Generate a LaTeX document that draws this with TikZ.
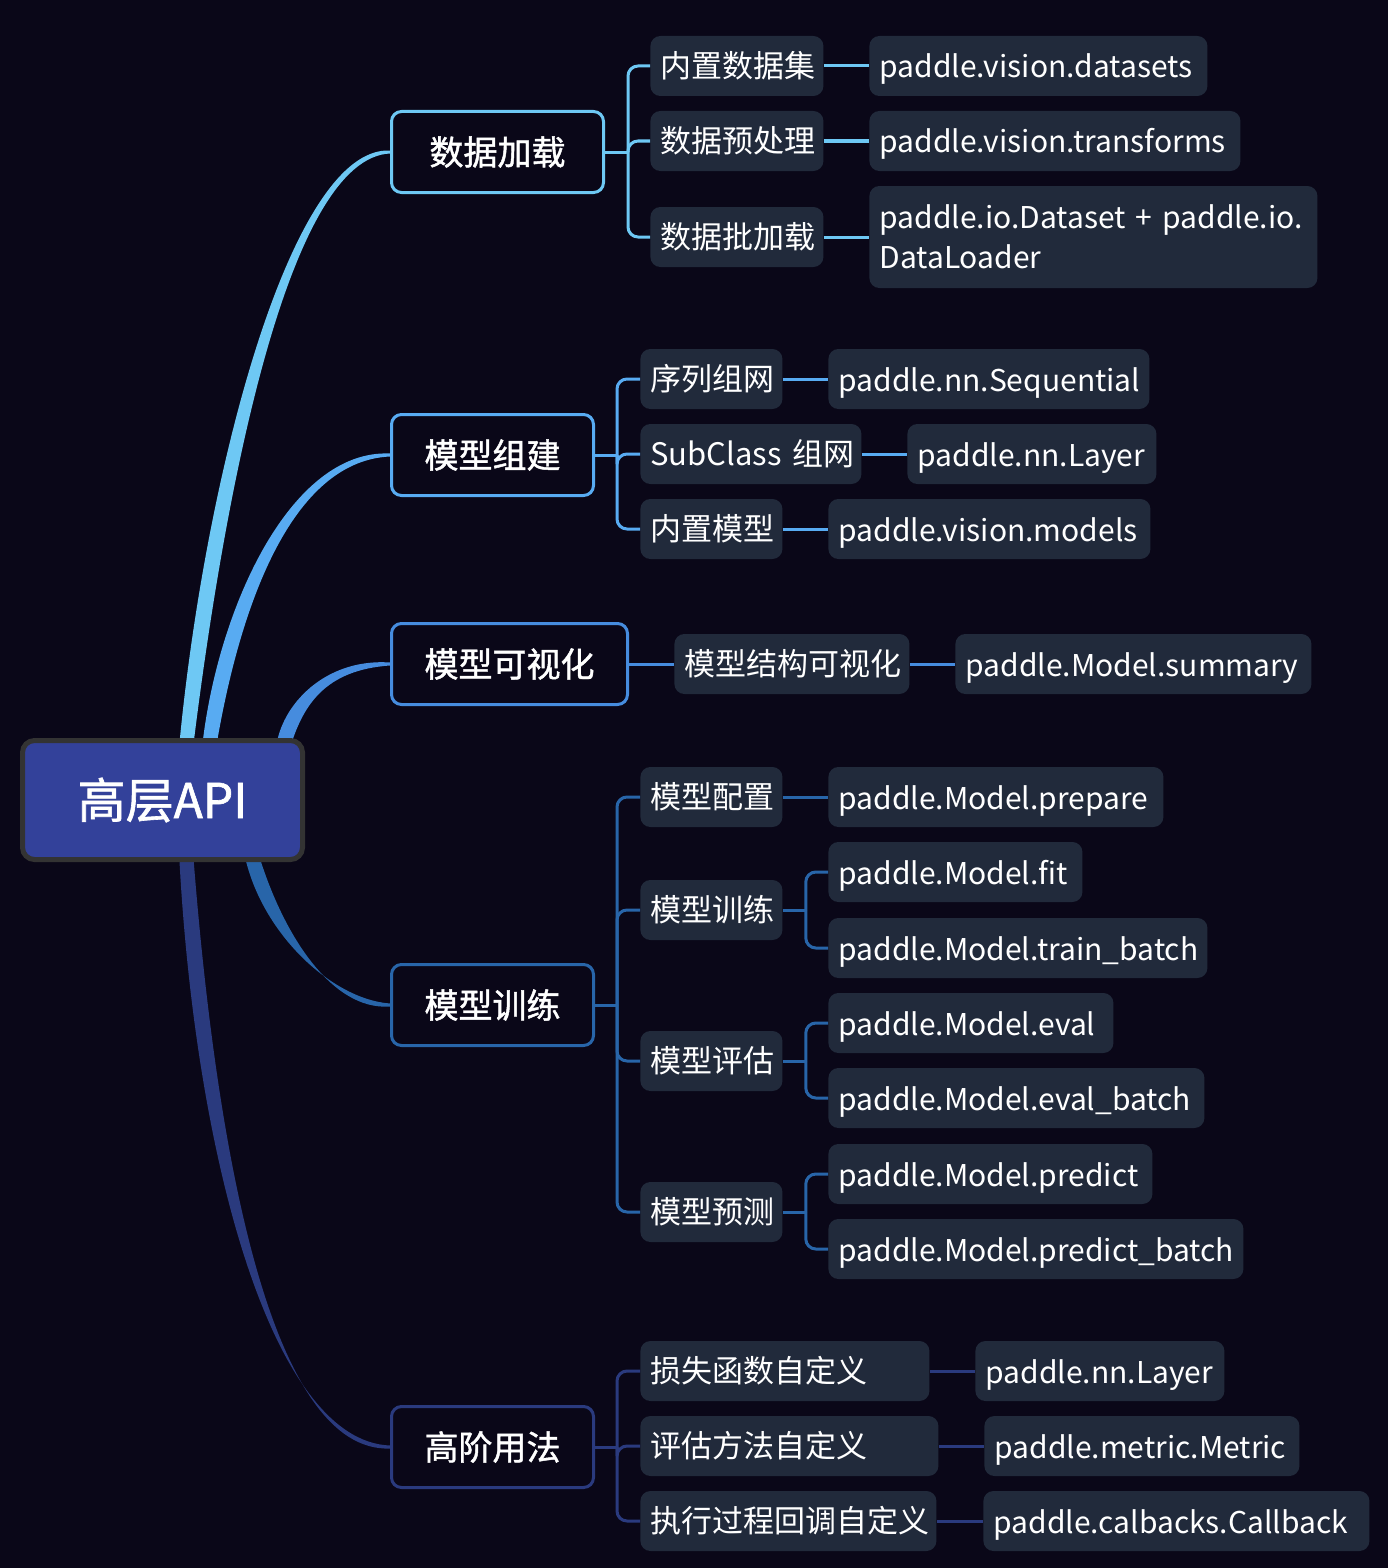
\documentclass[tikz,border=0pt]{standalone}
\usepackage{fontspec}
\setmainfont{Noto Sans CJK SC}
\newfontfamily\medfont{Noto Sans CJK SC}[FakeBold=1.3]
\usetikzlibrary{calc}
\hyphenpenalty=10000
\exhyphenpenalty=10000

\definecolor{bgdark}{HTML}{0A0718}
\definecolor{subfill}{HTML}{212A3B}
\definecolor{rootblue}{HTML}{33419A}
\definecolor{rootedge}{HTML}{333333}
\definecolor{cload}{HTML}{6EC8F4}
\definecolor{cbuild}{HTML}{58ABF2}
\definecolor{cvis}{HTML}{468CDE}
\definecolor{ctrain}{HTML}{2865A9}
\definecolor{cadv}{HTML}{2A3A7E}

\pgfdeclarelayer{back}
\pgfsetlayers{back,main}

% tapered stem from the root to a topic box
\newcommand{\stem}[5]{%
  \fill[#1] ($(#2)+(-7,0)$) .. controls ($(#3)+(-11,0)$) and ($(#4)+(0,-6)$) .. ($(#5.west)+(0,-1.5)$)
    -- ($(#5.west)+(0,1.5)$) .. controls ($(#4)+(0,6)$) and ($(#3)+(11,0)$) .. ($(#2)+(7,0)$) -- cycle;}

\tikzset{
  root/.style={fill=rootblue, draw=rootedge, line width=2.5pt, rounded corners=6pt,
    minimum width=140pt, minimum height=59.5pt, text=white, font=\medfont\fontsize{24}{28}\selectfont},
  topic/.style={draw=#1, line width=1.5pt, rounded corners=5pt, fill=bgdark, text=white,
    minimum height=40.5pt, font=\medfont\fontsize{17}{20}\selectfont},
  box/.style={fill=subfill, rounded corners=5pt, text=white, anchor=west, minimum height=30pt,
    inner xsep=5pt, align=left, text width=#1, font=\fontsize{15.5}{20}\selectfont},
  api/.style={box=#1, font=\fontsize{15}{20}\selectfont, text height=15pt, text depth=3pt},
  link/.style={draw=#1, line width=1.5pt},
  fork/.style={draw=#1, line width=1.5pt, rounded corners=5pt},
}

\begin{document}
\begin{tikzpicture}[x=0.5pt, y=-0.5pt]
  \useasboundingbox (0,0) rectangle (1388,1568);
  % Draw root
  \node[root] (core) at (162.5,800) {高层API};

  % Draw topics
  \node[topic=cload, minimum width=106pt] (load) at (497.5,152) {数据加载};
  \node[topic=cbuild, minimum width=101pt] (build) at (492.5,455) {模型组建};
  \node[topic=cvis, minimum width=118pt] (vis) at (509.5,664) {模型可视化};
  \node[topic=ctrain, minimum width=101pt] (train) at (492.5,1005) {模型训练};
  \node[topic=cadv, minimum width=101pt] (adv) at (492.5,1447) {高阶用法};

  % Data loading
  \node[box=76.5pt] (s11) at (650,66) {内置数据集};
  \node[box=76.5pt] (s12) at (650,141) {数据预处理};
  \node[box=76.5pt] (s13) at (650,237) {数据批加载};
  \node[api=159pt] (l11) at (869,66) {paddle.vision.datasets};
  \node[api=175.5pt] (l12) at (869,141) {paddle.vision.transforms};
  \node[box=214pt, font=\fontsize{15}{20}\selectfont, minimum height=51pt] (l13) at (869,237) {paddle.io.Dataset~+~paddle.io.\\DataLoader};
  \draw[link=cload] (load.east) -- ++(23,0);
  \foreach \s in {s11,s12,s13}
    \draw[fork=cload] (load.east) ++(23,0) |- (\s.west);
  \foreach \s/\l in {s11/l11,s12/l12,s13/l13}
    \draw[link=cload] (\s.east) -- (\l.west);

  % Model building
  \node[box=61pt] (s21) at (640,379) {序列组网};
  \node[box=100.5pt] (s22) at (640,454) {SubClass~组网};
  \node[box=61pt] (s23) at (640,529) {内置模型};
  \node[api=150.5pt] (l21) at (828,379) {paddle.nn.Sequential};
  \node[api=114.5pt] (l22) at (907,454) {paddle.nn.Layer};
  \node[api=151pt] (l23) at (828,529) {paddle.vision.models};
  \draw[link=cbuild] (build.east) -- ++(22,0);
  \foreach \s in {s21,s22,s23}
    \draw[fork=cbuild] (build.east) ++(22,0) |- (\s.west);
  \foreach \s/\l in {s21/l21,s22/l22,s23/l23}
    \draw[link=cbuild] (\s.east) -- (\l.west);

  % Visualisation
  \node[box=107.5pt] (s31) at (674,664) {模型结构可视化};
  \node[api=168pt] (l31) at (955,664) {paddle.Model.summary};
  \draw[link=cvis] (vis.east) -- (s31.west);
  \draw[link=cvis] (s31.east) -- (l31.west);

  % Training
  \node[box=61pt] (s41) at (640,797) {模型配置};
  \node[box=61pt] (s42) at (640,910) {模型训练};
  \node[box=61pt] (s43) at (640,1061) {模型评估};
  \node[box=61pt] (s44) at (640,1212) {模型预测};
  \node[api=157.5pt] (l41) at (828,797) {paddle.Model.prepare};
  \node[api=117pt] (l42) at (828,872) {paddle.Model.fit};
  \node[api=179.5pt] (l43) at (828,948) {paddle.Model.train\_batch};
  \node[api=132.5pt] (l44) at (828,1023) {paddle.Model.eval};
  \node[api=178pt] (l45) at (828,1098) {paddle.Model.eval\_batch};
  \node[api=152pt] (l46) at (828,1174) {paddle.Model.predict};
  \node[api=197.5pt] (l47) at (828,1249) {paddle.Model.predict\_batch};
  \draw[link=ctrain] (train.east) -- ++(22,0);
  \foreach \s in {s41,s42,s43,s44}
    \draw[fork=ctrain] (train.east) ++(22,0) |- (\s.west);
  \draw[link=ctrain] (s41.east) -- (l41.west);
  \foreach \s/\a/\b in {s42/l42/l43,s43/l44/l45,s44/l46/l47}{
    \draw[link=ctrain] (\s.east) -- ++(23,0);
    \draw[fork=ctrain] (\s.east) ++(23,0) |- (\a.west);
    \draw[fork=ctrain] (\s.east) ++(23,0) |- (\b.west);
  }

  % Advanced usage
  \node[box=134.5pt] (s51) at (640,1371) {损失函数自定义};
  \node[box=139pt] (s52) at (640,1446) {评估方法自定义};
  \node[box=138pt] (s53) at (640,1521) {执行过程回调自定义};
  \node[api=114.5pt] (l51) at (975,1371) {paddle.nn.Layer};
  \node[api=147.5pt] (l52) at (984,1446) {paddle.metric.Metric};
  \node[api=183pt] (l53) at (983,1521) {paddle.calbacks.Callback};
  \draw[link=cadv] (adv.east) -- ++(22,0);
  \foreach \s in {s51,s52,s53}
    \draw[fork=cadv] (adv.east) ++(22,0) |- (\s.west);
  \foreach \s/\l in {s51/l51,s52/l52,s53/l53}
    \draw[link=cadv] (\s.east) -- (\l.west);

  % Draw stems behind the root
  \begin{pgfonlayer}{back}
    \fill[bgdark] (0,0) rectangle (1388,1568);
    \coordinate (r1) at (186,748);
    \coordinate (r2) at (209,748);
    \coordinate (r3) at (283,748);
    \coordinate (r4) at (251,852);
    \coordinate (r5) at (186,852);
    \stem{cload}{r1}{215,480}{290,152}{load}
    \stem{cbuild}{r2}{228,610}{290,455}{build}
    \stem{cvis}{r3}{292,705}{325,664}{vis}
    \stem{ctrain}{r4}{270,930}{330,1005}{train}
    \stem{cadv}{r5}{205,1150}{270,1447}{adv}
  \end{pgfonlayer}
\end{tikzpicture}
\end{document}
